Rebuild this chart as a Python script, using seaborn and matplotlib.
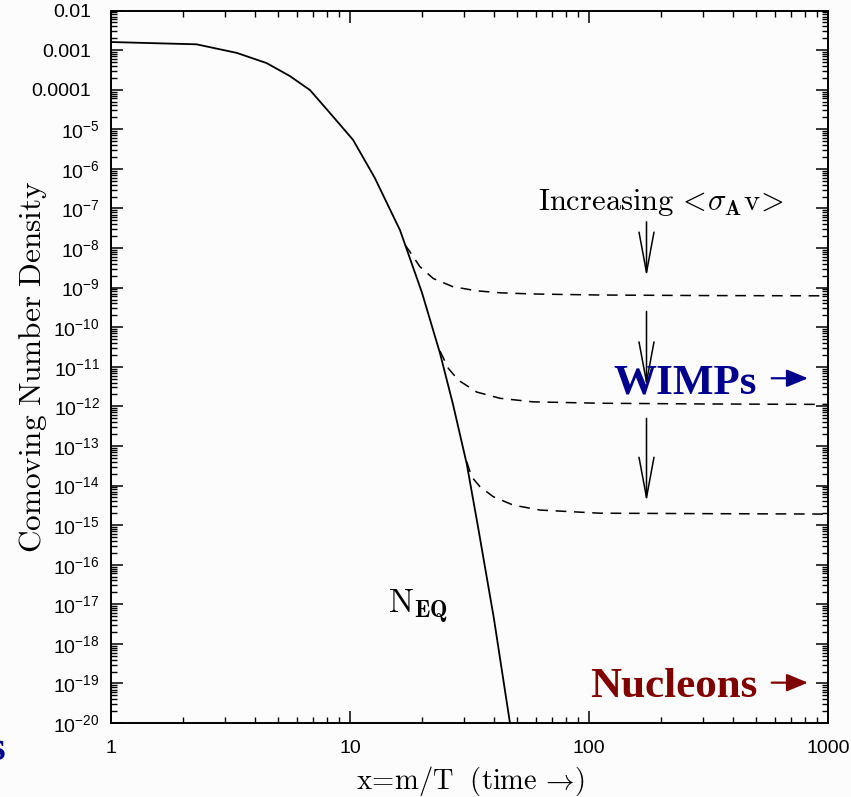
import numpy as np
import pandas as pd
import matplotlib
matplotlib.use("Agg")
import matplotlib.pyplot as plt
import seaborn as sns
from matplotlib.ticker import LogLocator, NullFormatter
from matplotlib.transforms import ScaledTranslation

# ---------------- data ----------------
# equilibrium curve N_EQ
x_eq = [1.0, 2.28, 3.36, 4.48, 5.61, 6.80, 8.49, 10.3, 12.7, 16.2, 20.0,
        23.8, 27.0, 30.8, 34.3, 40.0, 46.7]
y_eq = [1.6e-3, 1.4e-3, 8.5e-4, 4.7e-4, 2.2e-4, 9.8e-5, 2.1e-5, 5.4e-6,
        5.9e-7, 2.8e-8, 7.5e-10, 2.2e-11, 1.1e-12, 3.5e-14, 9.3e-16,
        4.4e-18, 1.0e-20]

# freeze-out curves (dashed), increasing <sigma_A v>
x_fo1 = [17.0, 17.8, 19.6, 22.3, 27.0, 33.9, 42.4, 58.3, 111, 300, 1000]
y_fo1 = [1.2e-8, 8.1e-9, 3.4e-9, 1.7e-9, 1.05e-9, 8.3e-10, 7.4e-10,
         6.9e-10, 6.5e-10, 6.3e-10, 6.2e-10]
x_fo2 = [23.8, 25.8, 28.4, 33.9, 42.4, 58.3, 111, 300, 1000]
y_fo2 = [2.5e-11, 9.1e-12, 4.6e-12, 2.3e-12, 1.6e-12, 1.3e-12, 1.2e-12,
         1.15e-12, 1.12e-12]
x_fo3 = [30.8, 32.3, 35.0, 39.8, 48.2, 62.4, 111, 300, 1000]
y_fo3 = [4.0e-14, 1.66e-14, 9.3e-15, 5.2e-15, 3.2e-15, 2.4e-15, 2.0e-15,
         1.95e-15, 1.9e-15]

xtick_vals = [1, 10, 100, 1000]
xtick_labels = ["1", "10", "100", "1000"]
ytick_vals = [10.0 ** -k for k in range(2, 21)]
ytick_labels = ["0.01", "0.001", "0.0001"] + \
               [r"$\mathdefault{10^{-%d}}$" % k for k in range(5, 21)]

# ---------------- style ----------------
sns.set_theme(style="ticks")
bg = "#fcfcfc"
plt.rcParams["mathtext.fontset"] = "cm"
plt.rcParams["font.family"] = ["Liberation Sans", "DejaVu Sans"]

fig = plt.figure(figsize=(8.51, 7.97), dpi=100, facecolor=bg)
ax = fig.add_axes([0.1304, 0.0928, 0.8426, 0.8940])
ax.set_facecolor(bg)
ax.set_xscale("log")
ax.set_yscale("log")

sns.lineplot(x=x_eq, y=y_eq, ax=ax, color="black", lw=1.3,
             estimator=None, sort=False)
for xs, ys in [(x_fo1, y_fo1), (x_fo2, y_fo2), (x_fo3, y_fo3)]:
    sns.lineplot(x=xs, y=ys, ax=ax, color="black", lw=1.1,
                 linestyle=(0, (7, 5)), estimator=None, sort=False)

ax.set_xlim(1, 1000)
ax.set_ylim(1e-20, 1e-2)

ax.set_xticks(xtick_vals, labels=xtick_labels)
ax.set_yticks(ytick_vals, labels=ytick_labels)
ax.xaxis.set_minor_locator(LogLocator(10, subs=np.arange(2, 10), numticks=200))
ax.yaxis.set_minor_locator(LogLocator(10, subs=np.arange(2, 10), numticks=200))
ax.xaxis.set_minor_formatter(NullFormatter())
ax.yaxis.set_minor_formatter(NullFormatter())

ax.tick_params(which="both", direction="in", top=True, right=True,
               color="black", labelcolor="black")
ax.tick_params(which="major", length=8.6, width=1.1, labelsize=14)
ax.tick_params(which="minor", length=4.3, width=1.0)
ax.tick_params(axis="x", which="major", pad=12)
ax.tick_params(axis="y", which="major", pad=8)
for lab in ax.get_xticklabels() + ax.get_yticklabels():
    lab.set_fontfamily("Liberation Sans")
# decimal labels sit a little further from the axis in the reference
for t in ax.yaxis.get_major_ticks()[:3]:
    t.label1.set_transform(t.label1.get_transform() +
                           ScaledTranslation(-0.09, 0, fig.dpi_scale_trans))
for s in ax.spines.values():
    s.set_linewidth(1.4)
    s.set_color("black")
ax.grid(False)

ax.set_ylabel(r"$\mathrm{Comoving\ Number\ Density}$", fontsize=22.5,
              color="black", va="center")
ax.yaxis.set_label_coords(-0.1088, 0.5)
ax.set_xlabel(r"$\mathrm{x\!=\!m/T\ \ (time}\ \!{\rightarrow}\!\mathrm{)}$",
              fontsize=20.5, color="black", va="top")
ax.xaxis.set_label_coords(0.502, -0.057)

# annotations
ax.text(200, 10 ** -7.04,
        r"$\mathrm{Increasing}\,{<}\!\sigma_{\mathbf{A}}\mathrm{v}\!{>}$",
        ha="center", va="baseline", fontsize=22, color="black")
ax.text(14.4, 10 ** -17.23, r"$\mathrm{N}_{\mathbf{EQ}}$", ha="left",
        va="baseline", fontsize=24, color="black")

arrow_x = 174
arrows = [(4.6e-8, 1.9e-9), (2.5e-10, 3.2e-12), (5.0e-13, 3.9e-15)]
for y0, y1 in arrows:
    ax.annotate("", xy=(arrow_x, y1), xytext=(arrow_x, y0),
                arrowprops=dict(arrowstyle="->,head_length=1.45,head_width=0.27",
                                lw=1.1, color="black", mutation_scale=20,
                                shrinkA=0, shrinkB=0))

wimp_col = "#00008f"
nuc_col = "#800000"
ax.text(504.6, 10 ** -11.67, "WIMPs", ha="right", va="baseline",
        fontsize=31, fontweight="bold", family="Liberation Serif", color=wimp_col)
ax.text(504.6, 10 ** -19.34, "Nucleons", ha="right", va="baseline",
        fontsize=31, fontweight="bold", family="Liberation Serif", color=nuc_col)
for yy, col in [(10 ** -11.29, wimp_col), (10 ** -18.98, nuc_col)]:
    ax.annotate("", xy=(824, yy), xytext=(581, yy),
                arrowprops=dict(arrowstyle="-|>,head_length=0.65,head_width=0.27",
                                lw=1.6, color=col, mutation_scale=20,
                                shrinkA=0, shrinkB=0))

fig.text(-0.0137, 0.0464, "s", ha="left", va="baseline", fontsize=31,
         fontweight="bold", family="Liberation Serif", color=wimp_col)

fig.savefig("out.png", dpi=100, facecolor=bg)
